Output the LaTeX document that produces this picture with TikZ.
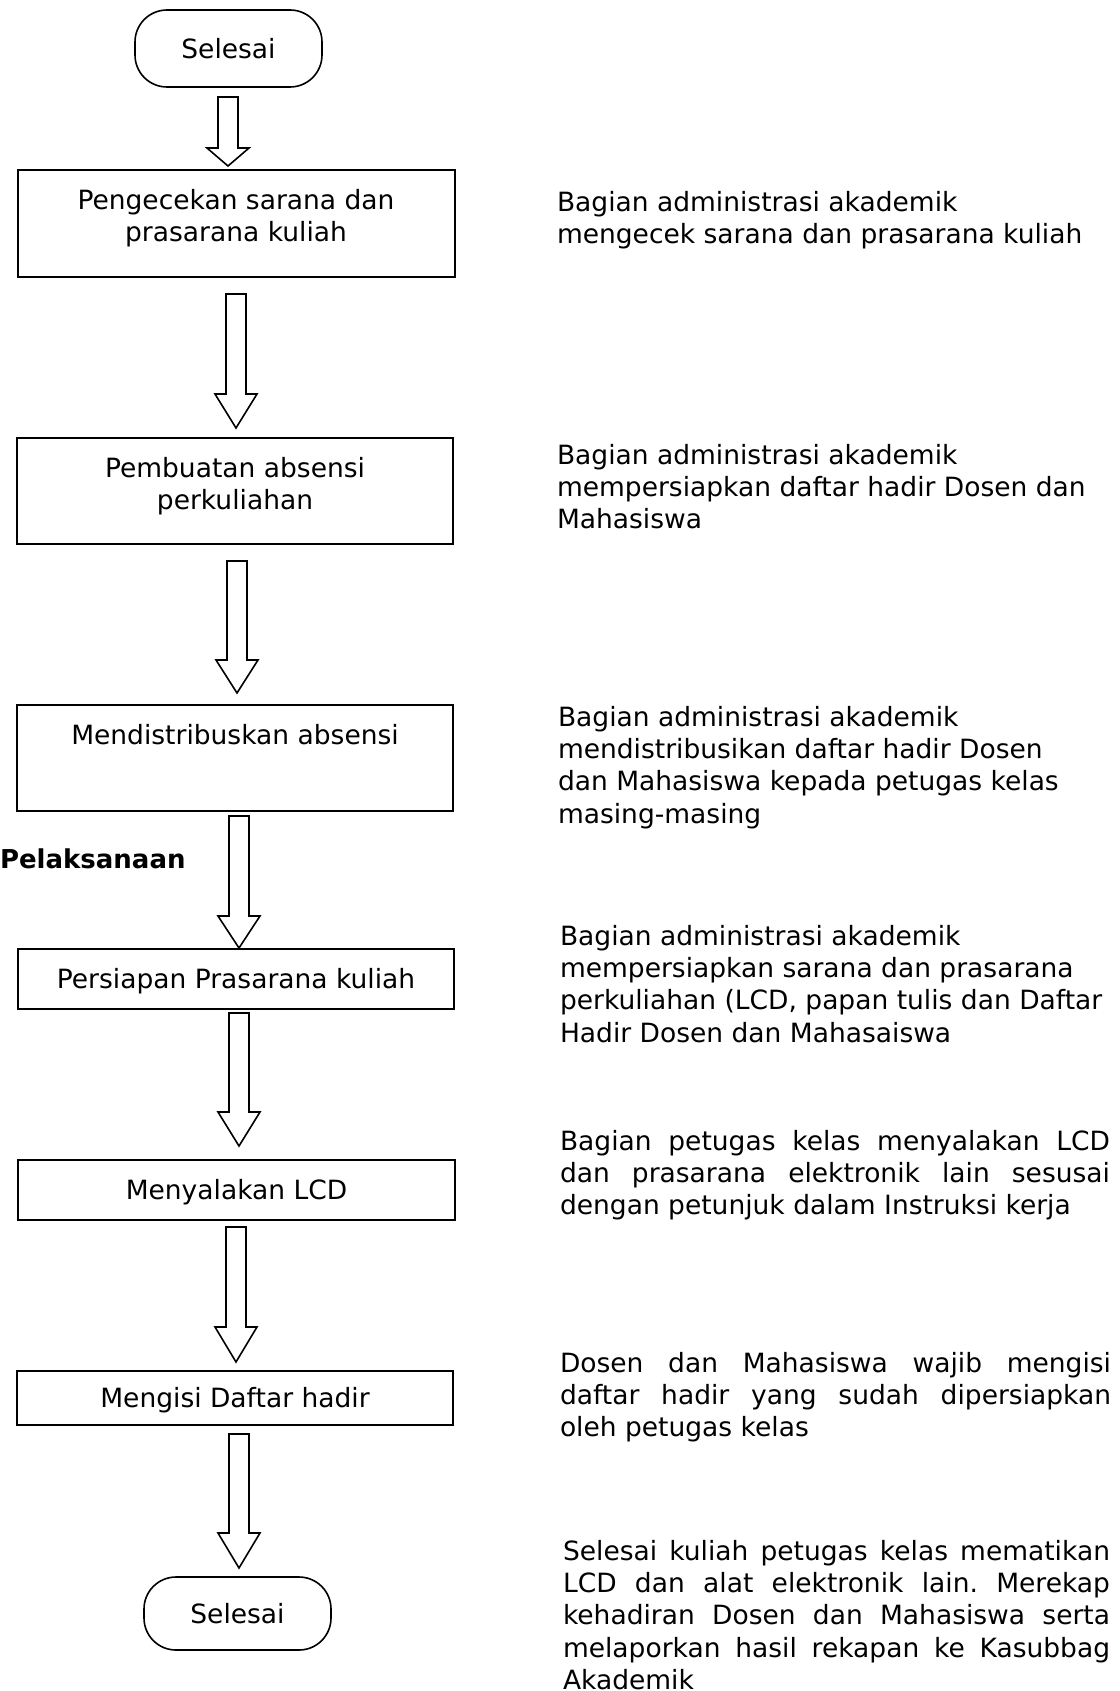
\documentclass[tikz,border=0pt]{standalone}
\usepackage{fontspec}
\setmainfont{DejaVu Sans}
\usetikzlibrary{calc}
\hyphenpenalty=10000
\exhyphenpenalty=10000
\tolerance=9999
\frenchspacing
% block arrow: #1 top coordinate, #2 tip coordinate, #3 length of the head
\newcommand\blockarrow[3]{%
  \draw[flowarrow] let \p1=(#1), \p2=(#2) in
    (\x1-10pt,\y1) -- (\x1+10pt,\y1) -- (\x1+10pt,\y2+#3) -- (\x1+21pt,\y2+#3)
    -- (\x1,\y2) -- (\x1-21pt,\y2+#3) -- (\x1-10pt,\y2+#3) -- cycle;}
\begin{document}
\begin{tikzpicture}[x=1pt,y=-1pt,
  every node/.style={inner sep=0pt, outer sep=0pt},
  basefont/.style={font=\fontsize{26.5pt}{32.4pt}\selectfont},
  terminal/.style={draw, line width=1.6pt, rounded corners=32pt, basefont,
    text height=20.1pt, text depth=0pt},
  stepbox/.style={draw, line width=1.6pt, basefont,
    text height=20.1pt, text depth=2pt},
  boxtext/.style={basefont, align=center, anchor=north},
  desc/.style={basefont, align=left, anchor=north west},
  descj/.style={basefont, align=justify, anchor=north west},
  flowarrow/.style={draw, line width=1.6pt, fill=white, line join=miter}]
\useasboundingbox (0,0) rectangle (1119,1691);

% flow column
\node[terminal, minimum width=187pt, minimum height=77pt] (start) at (228.5,48.5) {Selesai};
\node[stepbox, minimum width=437pt, minimum height=107pt] (b1) at (236.5,223.5) {};
\node[boxtext] (b1t) at (236,189) {Pengecekan sarana dan\\prasarana kuliah};
\node[stepbox, minimum width=436pt, minimum height=106pt] (b2) at (235,491) {};
\node[boxtext] (b2t) at (235,457) {Pembuatan absensi\\perkuliahan};
\node[stepbox, minimum width=436pt, minimum height=106pt] (b3) at (235,758) {};
\node[boxtext] (b3t) at (235,724) {Mendistribuskan absensi};
\node[stepbox, minimum width=436pt, minimum height=60pt] (b4) at (236,979) {Persiapan Prasarana kuliah};
\node[stepbox, minimum width=437pt, minimum height=60pt] (b5) at (236.5,1190) {Menyalakan LCD};
\node[stepbox, minimum width=436pt, minimum height=54pt] (b6) at (235,1398) {Mengisi Daftar hadir};
\node[terminal, minimum width=187pt, minimum height=73pt] (end) at (237.5,1613.5) {Selesai};

\node[font=\fontsize{26pt}{32pt}\selectfont\bfseries, anchor=base west] (phase) at (0,868) {Pelaksanaan};

% arrow ends
\coordinate (a1s) at (228,97);   \coordinate (a1e) at (228,166);
\coordinate (a2s) at (236,294);  \coordinate (a2e) at (236,428);
\coordinate (a3s) at (237,561);  \coordinate (a3e) at (237,693);
\coordinate (a4s) at (239,816);  \coordinate (a4e) at (239,948);
\coordinate (a5s) at (239,1013); \coordinate (a5e) at (239,1146);
\coordinate (a6s) at (236,1227); \coordinate (a6e) at (236,1362);
\coordinate (a7s) at (239,1434); \coordinate (a7e) at (239,1568);

\blockarrow{a1s}{a1e}{18pt}
\blockarrow{a2s}{a2e}{34pt}
\blockarrow{a3s}{a3e}{33pt}
\blockarrow{a4s}{a4e}{32pt}
\blockarrow{a5s}{a5e}{34pt}
\blockarrow{a6s}{a6e}{35pt}
\blockarrow{a7s}{a7e}{35pt}

% descriptions
\node[desc] (d1) at (557,191) {Bagian administrasi akademik\\mengecek sarana dan prasarana kuliah};
\node[desc] (d2) at (557,444) {Bagian administrasi akademik\\mempersiapkan daftar hadir Dosen dan\\Mahasiswa};
\node[desc] (d3) at (558,706) {Bagian administrasi akademik\\mendistribusikan daftar hadir Dosen\\dan Mahasiswa kepada petugas kelas\\masing-masing};
\node[desc] (d4) at (560,925) {Bagian administrasi akademik\\mempersiapkan sarana dan prasarana\\perkuliahan (LCD, papan tulis dan Daftar\\Hadir Dosen dan Mahasaiswa};
\node[descj, text width=550pt] (d5) at (560,1130) {Bagian petugas kelas menyalakan LCD\linebreak
  dan prasarana elektronik lain sesusai\linebreak
  dengan petunjuk dalam Instruksi kerja};
\node[descj, text width=551pt] (d6) at (560,1352) {Dosen dan Mahasiswa wajib mengisi\linebreak
  daftar hadir yang sudah dipersiapkan\linebreak
  oleh petugas kelas};
\node[descj, text width=547pt] (d7) at (563,1540) {Selesai kuliah petugas kelas mematikan\linebreak
  LCD dan alat elektronik lain. Merekap\linebreak
  kehadiran Dosen dan Mahasiswa serta\linebreak
  melaporkan hasil rekapan ke Kasubbag\linebreak
  Akademik};
\end{tikzpicture}
\end{document}
